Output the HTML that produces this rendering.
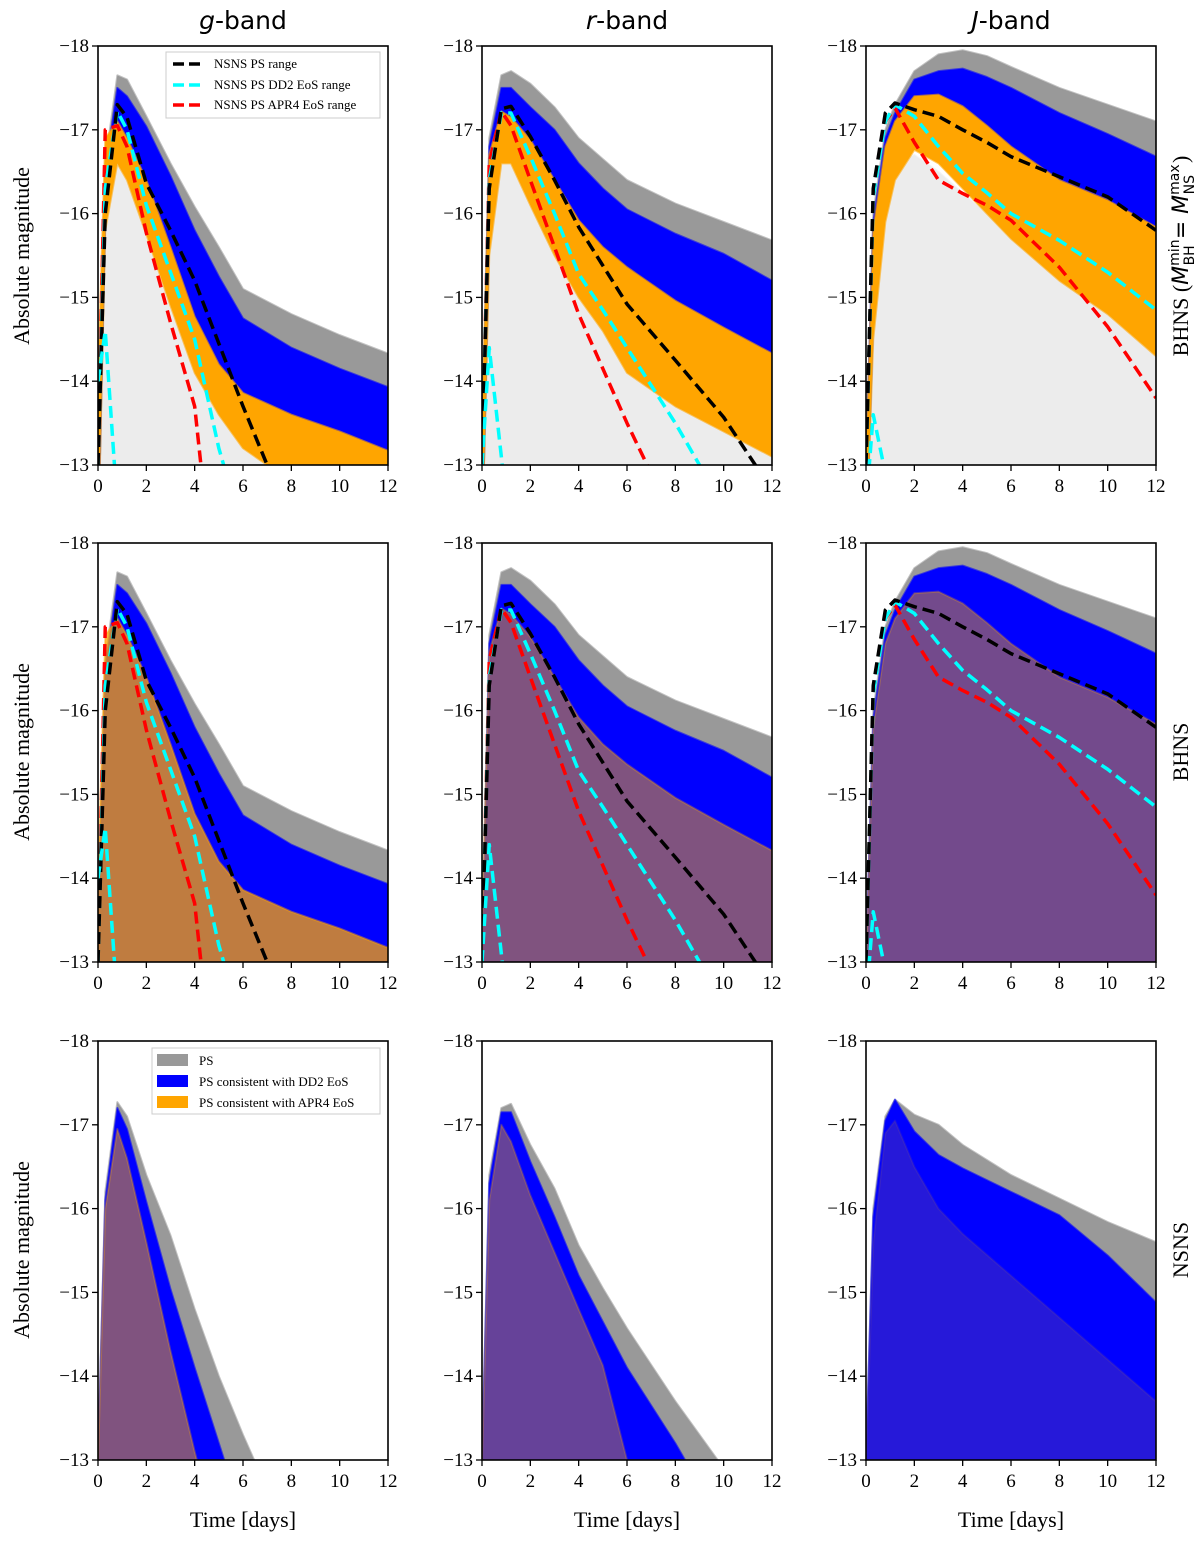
<!DOCTYPE html>
<html style="margin:0;padding:0;width:1200px;height:1542px;overflow:hidden"><head><meta charset="utf-8"><style>
html,body{margin:0;padding:0;background:#fff;width:1200px;height:1542px;overflow:hidden}
#wrap{position:relative;width:1200px;height:1542px;overflow:hidden}
svg{display:block}
</style></head><body>
<div id="wrap">
<svg id="fig" width="1200" height="1542" viewBox="0 0 1200 1542" xmlns="http://www.w3.org/2000/svg" style="position:absolute;left:0;top:0"></svg>
<svg width="1200" height="1542" style="position:absolute;left:0;top:0">
  <g style="font-family:'DejaVu Sans',sans-serif" font-size="25" text-anchor="middle">
    <text x="243" y="29"><tspan font-style="italic">g</tspan>-band</text>
    <text x="627" y="29"><tspan font-style="italic">r</tspan>-band</text>
    <text x="1011" y="29"><tspan font-style="italic">J</tspan>-band</text>
  </g>
  <g style="font-family:'Liberation Serif',serif" font-size="22" text-anchor="middle">
    <text transform="translate(29,256) rotate(-90)">Absolute magnitude</text>
    <text transform="translate(29,752) rotate(-90)">Absolute magnitude</text>
    <text transform="translate(29,1250) rotate(-90)">Absolute magnitude</text>
    <text x="243" y="1527">Time [days]</text>
    <text x="627" y="1527">Time [days]</text>
    <text x="1011" y="1527">Time [days]</text>
    <text transform="translate(1188,256) rotate(-90)">BHNS (<tspan style="font-family:'DejaVu Sans',sans-serif" font-style="italic">M</tspan><tspan style="font-family:'DejaVu Sans',sans-serif" font-size="14" dy="-9">min</tspan><tspan style="font-family:'DejaVu Sans',sans-serif" font-size="14" dx="-26" dy="15">BH</tspan><tspan style="font-family:'DejaVu Sans',sans-serif" dx="6" dy="-6">= </tspan><tspan style="font-family:'DejaVu Sans',sans-serif" font-style="italic">M</tspan><tspan style="font-family:'DejaVu Sans',sans-serif" font-size="14" dy="-9">max</tspan><tspan style="font-family:'DejaVu Sans',sans-serif" font-size="14" dx="-30" dy="15">NS</tspan><tspan dx="12" dy="-6">)</tspan></text>
    <text transform="translate(1188,752) rotate(-90)">BHNS</text>
    <text transform="translate(1188,1250) rotate(-90)">NSNS</text>
  </g>
  <g style="font-family:'Liberation Serif',serif" font-size="13">
    <rect x="166" y="52" width="214" height="66" fill="#fff" fill-opacity="0.85" stroke="#ccc"/>
    <line x1="173" y1="64" x2="203" y2="64" stroke="#000" stroke-width="3.5" stroke-dasharray="11,5"/>
    <text x="214" y="68">NSNS PS range</text>
    <line x1="173" y1="85" x2="203" y2="85" stroke="#00ffff" stroke-width="3.5" stroke-dasharray="11,5"/>
    <text x="214" y="89">NSNS PS DD2 EoS range</text>
    <line x1="173" y1="105" x2="203" y2="105" stroke="#ff0000" stroke-width="3.5" stroke-dasharray="11,5"/>
    <text x="214" y="109">NSNS PS APR4 EoS range</text>
  </g>
  <g style="font-family:'Liberation Serif',serif" font-size="13">
    <rect x="152" y="1048" width="228" height="66" fill="#fff" fill-opacity="0.85" stroke="#ccc"/>
    <rect x="157" y="1054" width="31" height="12" fill="#999"/>
    <text x="199" y="1065">PS</text>
    <rect x="157" y="1075" width="31" height="12" fill="#0000ff"/>
    <text x="199" y="1086">PS consistent with DD2 EoS</text>
    <rect x="157" y="1096" width="31" height="12" fill="#ffa500"/>
    <text x="199" y="1107">PS consistent with APR4 EoS</text>
  </g>
</svg>
</div>
<script>
// shared time grid (days)
const T = [0,0.3,0.8,1.2,2,3,4,5,6,8,10,12];
const xTicks = [0,2,4,6,8,10,12];
const yTicks = [-18,-17,-16,-15,-14,-13];
const colTitles = ["g","r","J"];

// g-band (BHNS rows)
const gGray   = [-13.5,-16.6,-17.65,-17.6,-17.16,-16.6,-16.08,-15.6,-15.1,-14.8,-14.55,-14.33];
const gBlue   = [-13.5,-16.5,-17.5,-17.4,-17.04,-16.45,-15.8,-15.25,-14.75,-14.4,-14.15,-13.93];
const gOrange = [-14,-16.9,-17.1,-16.9,-16.4,-15.6,-14.77,-14.2,-13.86,-13.6,-13.4,-13.17];
const gOrangeLo = [-12,-15.8,-16.6,-16.4,-15.75,-14.9,-14.1,-13.6,-13.2,-12.8,-12.5,-12.3];
const gBlueLo = [-12,-16.0,-16.8,-16.6,-16.1,-15.3,-14.6,-14.1,-13.8,-13.5,-13.3,-13.1];
const gLight  = [-13,-15.8,-16.8,-16.6,-15.7,-14.9,-14.1,-13.6,-13.2,-12.8,-12.5,-12.3];
const gBlack  = [-13,-16.0,-17.3,-17.15,-16.36,-15.8,-15.2,-14.45,-13.7,-12.3,-11,-10];
const gCyan   = [-13,-16.3,-17.22,-17.0,-16.1,-15.3,-14.5,-13.2,-12.2,-11,-10,-10];
const gRed    = [-13,-17.0,-17.05,-16.8,-15.77,-14.7,-13.7,-11.0,-10,-10,-10,-10];
const gCyanSmall = [-14.0,-14.6,-12.5,-11,-10,-10,-10,-10,-10,-10,-10,-10];

// r-band (BHNS rows)
const rGray   = [-13,-16.9,-17.65,-17.7,-17.55,-17.27,-16.9,-16.65,-16.4,-16.12,-15.9,-15.68];
const rBlue   = [-13,-16.8,-17.5,-17.5,-17.27,-17.0,-16.6,-16.3,-16.05,-15.76,-15.52,-15.2];
const rOrange = [-13.5,-16.7,-17.22,-17.15,-16.88,-16.4,-15.92,-15.6,-15.36,-14.96,-14.64,-14.33];
const rOrangeLo = [-12,-15.5,-16.6,-16.6,-16.1,-15.5,-15.0,-14.6,-14.1,-13.7,-13.4,-13.1];
const rBlueLo = [-12,-15.8,-16.8,-16.8,-16.5,-16.1,-15.7,-15.4,-15.2,-14.8,-14.5,-14.2];
const rLight  = [-13,-15.6,-16.76,-16.6,-16.16,-15.7,-15.28,-15.0,-14.7,-14.3,-14.0,-13.7];
const rBlack  = [-13,-16.3,-17.25,-17.28,-16.92,-16.4,-15.84,-15.38,-14.92,-14.25,-13.57,-12.7];
const rCyan   = [-13,-16.4,-17.2,-17.2,-16.68,-16.0,-15.28,-14.85,-14.4,-13.5,-12.5,-11.5];
const rRed    = [-13,-16.6,-17.22,-17.05,-16.4,-15.6,-14.8,-14.15,-13.5,-12.3,-11,-10];
const rCyanSmall = [-13,-14.4,-13.1,-12,-10,-10,-10,-10,-10,-10,-10,-10];

// J-band (BHNS rows)
const jGray   = [-13,-16.0,-17.0,-17.3,-17.7,-17.9,-17.95,-17.88,-17.75,-17.5,-17.3,-17.1];
const jBlue   = [-13,-15.9,-16.9,-17.2,-17.6,-17.7,-17.73,-17.63,-17.5,-17.2,-16.95,-16.68];
const jOrange = [-13,-15.8,-16.8,-17.1,-17.4,-17.42,-17.28,-17.05,-16.8,-16.4,-16.16,-15.84];
const jOrangeLo = [-12,-14.5,-15.9,-16.4,-16.76,-16.6,-16.3,-16.0,-15.7,-15.2,-14.8,-14.3];
const jBlueLo = [-12,-14.8,-16.5,-16.9,-17.2,-17.2,-17.1,-16.9,-16.7,-16.3,-16.0,-15.7];
const jLight  = [-13,-15.2,-16.3,-16.6,-16.7,-16.5,-16.24,-16.0,-15.75,-15.28,-14.9,-14.5];
const jBlack  = [-13,-16.3,-17.2,-17.32,-17.24,-17.16,-17.0,-16.85,-16.68,-16.44,-16.2,-15.8];
const jCyan   = [-13,-16.2,-17.1,-17.3,-17.16,-16.8,-16.48,-16.25,-16.0,-15.68,-15.3,-14.85];
const jRed    = [-13,-16.2,-17.1,-17.26,-16.85,-16.4,-16.24,-16.1,-15.92,-15.36,-14.65,-13.8];
const jCyanSmall = [-12.5,-13.6,-12.9,-12,-10,-10,-10,-10,-10,-10,-10,-10];

// NSNS row
const ngGray   = [-13,-16.2,-17.27,-17.1,-16.4,-15.68,-14.8,-14.0,-13.3,-12,-11,-10];
const ngBlue   = [-13,-16.1,-17.2,-16.95,-16.08,-15.04,-14.1,-13.2,-12.3,-11,-10,-10];
const ngOrange = [-13,-16.0,-16.95,-16.6,-15.6,-14.3,-13.1,-12,-11,-10,-10,-10];
const nrGray   = [-13,-16.4,-17.2,-17.25,-16.76,-16.24,-15.56,-15.05,-14.57,-13.7,-12.9,-12];
const nrBlue   = [-13,-16.3,-17.15,-17.15,-16.56,-15.9,-15.2,-14.65,-14.1,-13.2,-12.2,-11];
const nrOrange = [-13,-16.1,-17.0,-16.8,-16.16,-15.48,-14.8,-14.13,-13.0,-12,-11,-10];
const njGray   = [-13,-16.0,-17.1,-17.3,-17.12,-17.0,-16.76,-16.58,-16.4,-16.12,-15.84,-15.6];
const njBlue   = [-13,-15.9,-17.05,-17.3,-16.92,-16.64,-16.48,-16.34,-16.2,-15.92,-15.44,-14.88];
const njOrange = [-13,-15.6,-16.9,-17.05,-16.5,-16.0,-15.7,-15.45,-15.2,-14.7,-14.2,-13.7];

const NS = "http://www.w3.org/2000/svg";
const svg = document.getElementById("fig");
const colX = [98,482,866], axW = 290;
const rowY = [46,543,1041], axH = 419;

function mk(tag, attrs, parent){
  const e = document.createElementNS(NS, tag);
  for (const k in attrs) e.setAttribute(k, attrs[k]);
  (parent||svg).appendChild(e);
  return e;
}

const panels = [
  {c:0,r:0,gray:gGray,blue:gBlue,orange:gOrange,blueLo:gBlueLo,orangeLo:gOrangeLo,light:gLight,oOp:1,dash:[gBlack,gCyan,gRed,gCyanSmall]},
  {c:1,r:0,gray:rGray,blue:rBlue,orange:rOrange,blueLo:rBlueLo,orangeLo:rOrangeLo,light:rLight,oOp:1,dash:[rBlack,rCyan,rRed,rCyanSmall]},
  {c:2,r:0,gray:jGray,blue:jBlue,orange:jOrange,blueLo:jBlueLo,orangeLo:jOrangeLo,light:jLight,oOp:1,dash:[jBlack,jCyan,jRed,jCyanSmall]},
  {c:0,r:1,gray:gGray,blue:gBlue,orange:gOrange,blueLo:null,orangeLo:null,light:null,oOp:0.75,dash:[gBlack,gCyan,gRed,gCyanSmall]},
  {c:1,r:1,gray:rGray,blue:rBlue,orange:rOrange,blueLo:null,orangeLo:null,light:null,oOp:0.5,dash:[rBlack,rCyan,rRed,rCyanSmall]},
  {c:2,r:1,gray:jGray,blue:jBlue,orange:jOrange,blueLo:null,orangeLo:null,light:null,oOp:0.45,dash:[jBlack,jCyan,jRed,jCyanSmall]},
  {c:0,r:2,gray:ngGray,blue:ngBlue,orange:ngOrange,blueLo:null,orangeLo:null,light:null,oOp:0.5,dash:null},
  {c:1,r:2,gray:nrGray,blue:nrBlue,orange:nrOrange,blueLo:null,orangeLo:null,light:null,oOp:0.4,dash:null},
  {c:2,r:2,gray:njGray,blue:njBlue,orange:njOrange,blueLo:null,orangeLo:null,light:null,oOp:0.15,dash:null}
];
const dashColors = ["#000000","#00ffff","#ff0000","#00ffff"];

panels.forEach((p, i) => {
  const x0 = colX[p.c], y0 = rowY[p.r];
  const sx = t => x0 + t / 12 * axW;
  const sy = m => y0 + (m + 18) / 5 * axH;
  const g = mk("g", {});
  
  
  const cp = mk("clipPath", {id: "cp" + i}, g);
  mk("rect", {x:x0, y:y0, width:axW, height:axH}, cp);
  const plot = mk("g", {"clip-path": "url(#cp" + i + ")"}, g);
  function band(hi, lo, fill, op, name){
    let pts = T.map((t, k) => sx(t) + "," + sy(hi[k]));
    const back = [];
    for (let k = T.length - 1; k >= 0; k--) back.push(sx(T[k]) + "," + (lo ? sy(lo[k]) : y0 + axH + 5));
    const el = mk("polygon", {points: pts.concat(back).join(" "), fill: fill, "fill-opacity": op, stroke: fill, "stroke-opacity": op*0.6, "stroke-width": 2, "stroke-linejoin": "round"}, plot);
    
    
  }
  if (p.light) band(p.light, null, "#ececec", 1, "ps-faint-curves");
  band(p.gray, p.blueLo, "#999999", 1, "ps-band");
  band(p.blue, p.blueLo, "#0000ff", 1, "dd2-band");
  band(p.orange, p.orangeLo, "#ffa500", p.oOp, "apr4-band");
  if (p.dash) {
    const dn = ["nsns-ps-range-line","nsns-dd2-range-line","nsns-apr4-range-line","nsns-dd2-secondary-line"];
    [2,1,0,3].forEach(d => {
      const arr = p.dash[d];
      const el = mk("polyline", {points: T.map((t, k) => sx(t) + "," + sy(arr[k])).join(" "), fill: "none", stroke: dashColors[d], "stroke-width": 3.5, "stroke-dasharray": "12,6", "stroke-linejoin": "round"}, plot);
      
      
    });
  }
  const fr = mk("rect", {x:x0, y:y0, width:axW, height:axH, fill:"none", stroke:"#000", "stroke-width":1.6}, g);
  
  
  xTicks.forEach(t => {
    mk("line", {x1:sx(t), x2:sx(t), y1:y0+axH, y2:y0+axH+6, stroke:"#000", "stroke-width":1.3}, g);
    const tx = mk("text", {x:sx(t), y:y0+axH+27, "text-anchor":"middle", "font-size":19, "font-family":"Liberation Serif, serif"}, g);
    tx.textContent = t;
    
    
  });
  yTicks.forEach(m => {
    mk("line", {x1:x0-6, x2:x0, y1:sy(m), y2:sy(m), stroke:"#000", "stroke-width":1.3}, g);
    const tx = mk("text", {x:x0-9, y:sy(m)+6, "text-anchor":"end", "font-size":19, "font-family":"Liberation Serif, serif"}, g);
    tx.textContent = "\u2212" + Math.abs(m);
    
    
  });
});
</script>
</body></html>
